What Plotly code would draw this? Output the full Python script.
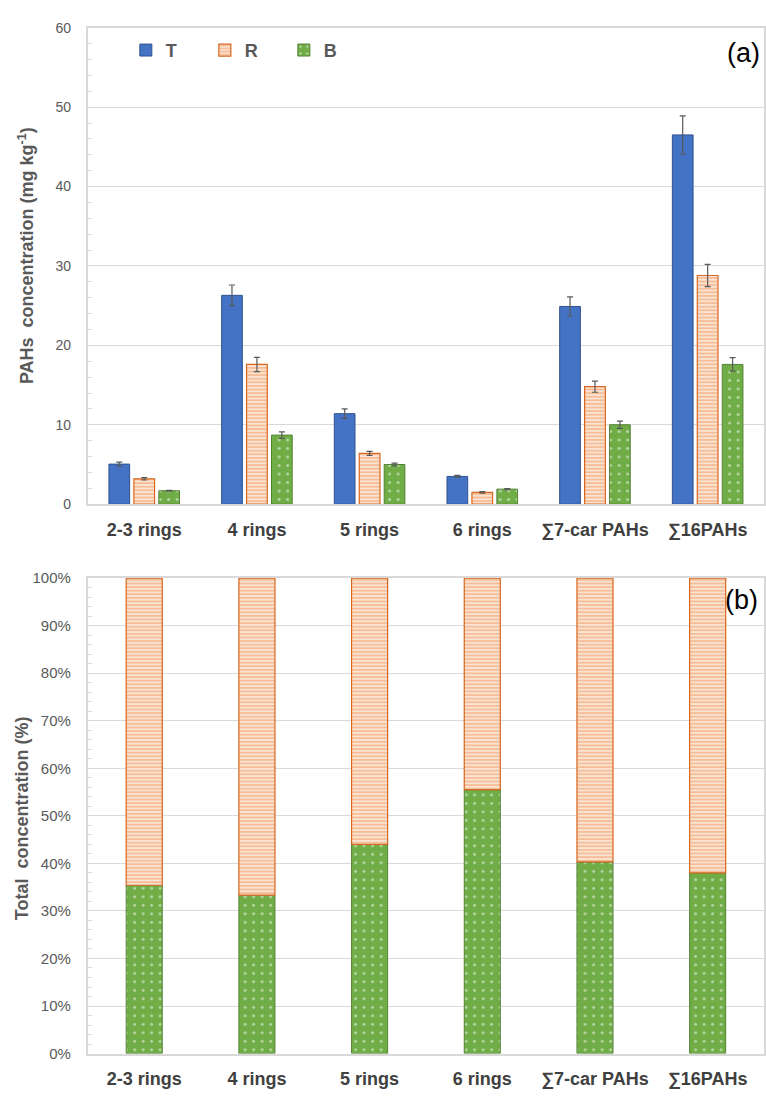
import plotly.graph_objects as go

categories = ["2-3 rings", "4 rings", "5 rings", "6 rings", "∑7-car PAHs", "∑16PAHs"]

# Panel (a): concentrations (mg kg-1)
T_vals = [5.05, 26.3, 11.4, 3.5, 24.9, 46.5]
R_vals = [3.2, 17.6, 6.4, 1.5, 14.8, 28.8]
B_vals = [1.7, 8.7, 5.0, 1.9, 10.0, 17.6]
T_err = [0.25, 1.3, 0.6, 0.12, 1.2, 2.4]
R_err = [0.15, 0.9, 0.25, 0.1, 0.7, 1.4]
B_err = [0.05, 0.4, 0.17, 0.08, 0.45, 0.85]

# Panel (b): share of total concentration (%)
B_share = [35.4, 33.3, 44.0, 55.5, 40.3, 38.0]
R_share = [64.6, 66.7, 56.0, 44.5, 59.7, 62.0]

W, H = 766, 1098
FONT = "Liberation Sans, Arial, sans-serif"
GRAY = "#595959"
AXC = "#D9D9D9"

def px_x(x):
    return x / W

def px_y(y):
    return 1 - y / H

err_style = dict(type="data", color="#595959", thickness=1.2, width=3)

blue = dict(color="#4472C4", line=dict(color="#2F528F", width=1))
orange = dict(color="white",
              pattern=dict(shape="-", fgcolor="#ED7D31", bgcolor="white", size=3.6, solidity=0.72),
              line=dict(color="#D9661F", width=1.2))
green = dict(color="#70AD47",
             pattern=dict(shape=".", fgcolor="white", bgcolor="#70AD47", size=8.5, solidity=0.1),
             line=dict(color="#548235", width=1))

fig = go.Figure()
fig.add_trace(go.Bar(name="T", x=categories, y=T_vals, marker=blue,
                     error_y=dict(array=T_err, **err_style), xaxis="x", yaxis="y"))
fig.add_trace(go.Bar(name="R", x=categories, y=R_vals, marker=orange,
                     error_y=dict(array=R_err, **err_style), xaxis="x", yaxis="y"))
fig.add_trace(go.Bar(name="B", x=categories, y=B_vals, marker=green,
                     error_y=dict(array=B_err, **err_style), xaxis="x", yaxis="y"))

fig.add_trace(go.Bar(name="B", x=categories, y=B_share, marker=green, showlegend=False,
                     offsetgroup="p", width=0.32, offset=-0.16, xaxis="x2", yaxis="y2"))
fig.add_trace(go.Bar(name="R", x=categories, y=R_share, base=B_share, marker=orange,
                     showlegend=False, offsetgroup="p", width=0.32, offset=-0.16,
                     xaxis="x2", yaxis="y2"))

xdom = [px_x(88), px_x(765)]
common_x = dict(type="category", showline=True, linecolor=AXC, linewidth=2, mirror=True,
                ticks="", showgrid=False,
                tickfont=dict(family=FONT, size=18, color="#404040", weight="bold"),
                ticklabelstandoff=8)
common_y = dict(showline=True, linecolor=AXC, linewidth=2, mirror=True,
                gridcolor=AXC, gridwidth=1, zeroline=False,
                ticks="inside", ticklen=4, tickcolor=AXC,
                minor=dict(dtick=2, ticks="inside", ticklen=4, tickcolor=AXC, showgrid=False),
                ticklabelstandoff=12)

ann_font = dict(family=FONT, size=18, color=GRAY, weight="bold")

fig.update_layout(
    width=W, height=H,
    margin=dict(l=0, r=0, t=0, b=0),
    paper_bgcolor="white", plot_bgcolor="white",
    barmode="group", bargap=0.336, bargroupgap=0.17,
    xaxis=dict(domain=xdom, anchor="y", **common_x),
    yaxis=dict(domain=[px_y(503), px_y(19)], anchor="x", range=[0, 60], dtick=10,
               tickfont=dict(family=FONT, size=14, color=GRAY), **common_y),
    xaxis2=dict(domain=xdom, anchor="y2", **common_x),
    yaxis2=dict(domain=[px_y(1061), px_y(578)], anchor="x2", range=[0, 100], dtick=10,
                ticksuffix="%",
                tickfont=dict(family=FONT, size=15, color=GRAY), **common_y),
    legend=dict(orientation="h", x=px_x(126), y=px_y(42), xanchor="left", yanchor="middle",
                bgcolor="rgba(0,0,0,0)", entrywidth=34, entrywidthmode="pixels",
                font=dict(family=FONT, size=18, color=GRAY, weight="bold")),
    showlegend=True,
    annotations=[
        dict(text="PAHs\u00a0 concentration (mg kg<sup>-1</sup>)", x=px_x(26), y=px_y(250),
             xref="paper", yref="paper", xanchor="center", yanchor="middle",
             textangle=-90, showarrow=False, font=ann_font),
        dict(text="Total\u00a0 concentration (%)", x=px_x(22), y=px_y(822),
             xref="paper", yref="paper", xanchor="center", yanchor="middle",
             textangle=-90, showarrow=False, font=ann_font),
        dict(text="(a)", x=px_x(744), y=px_y(45), xref="paper", yref="paper",
             xanchor="center", yanchor="middle",
             showarrow=False, font=dict(family=FONT, size=27, color="black")),
        dict(text="(b)", x=px_x(742), y=px_y(600), xref="paper", yref="paper",
             xanchor="center", yanchor="middle",
             showarrow=False, font=dict(family=FONT, size=27, color="black")),
    ],
)

fig.write_html("out.html", config={"displayModeBar": False},
               post_script="document.body.style.margin='0';")
